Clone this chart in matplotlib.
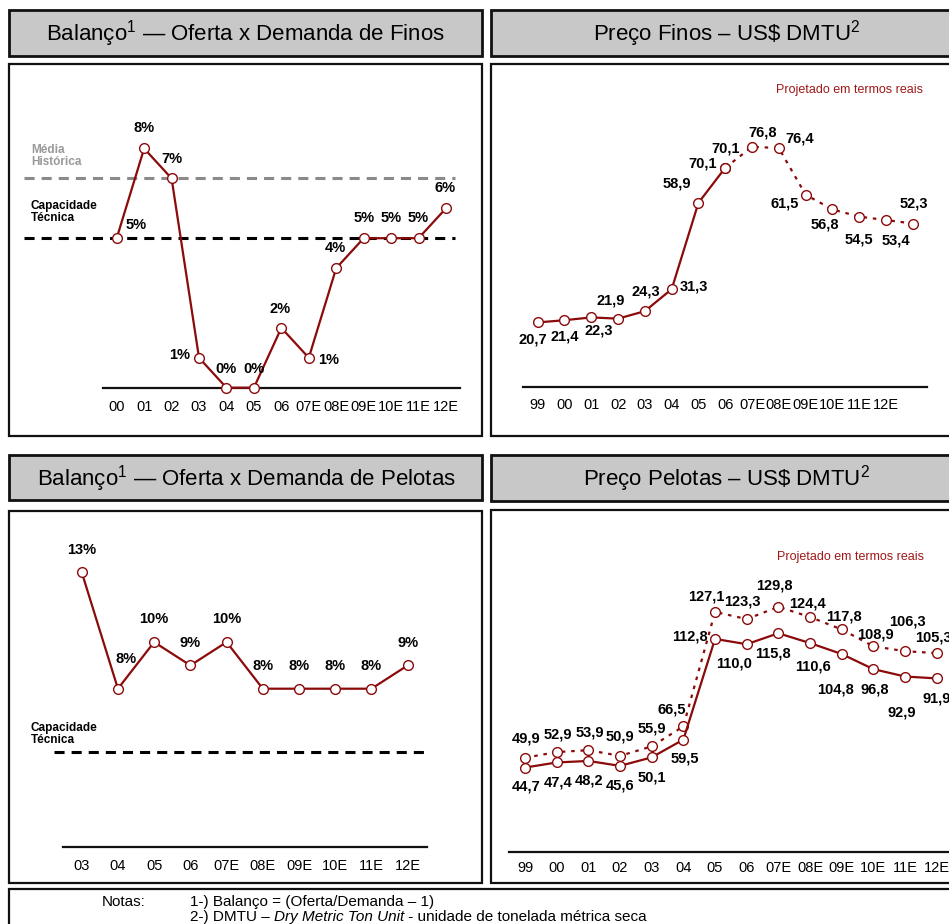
import matplotlib
matplotlib.use('Agg')
import matplotlib.pyplot as plt
from matplotlib.patches import Rectangle
from matplotlib import font_manager

# ---------------- data ----------------
finos_bal_cats = ['00', '01', '02', '03', '04', '05', '06', '07E', '08E', '09E', '10E', '11E', '12E']
finos_bal_vals = [5, 8, 7, 1, 0, 0, 2, 1, 4, 5, 5, 5, 6]
finos_media_historica = 7
finos_capacidade = 5

finos_price_ticks = ['99', '00', '01', '02', '03', '04', '05', '06', '07E', '08E', '09E', '10E', '11E', '12E']
finos_price_hist = [20.7, 21.4, 22.3, 21.9, 24.3, 31.3, 58.9, 70.1]
finos_price_proj = [70.1, 76.8, 76.4, 61.5, 56.8, 54.5, 53.4, 52.3]

pel_bal_cats = ['03', '04', '05', '06', '07E', '08E', '09E', '10E', '11E', '12E']
pel_bal_vals = [13, 8, 10, 9, 10, 8, 8, 8, 8, 9]
pel_capacidade = 5.3

pel_price_cats = ['99', '00', '01', '02', '03', '04', '05', '06', '07E', '08E', '09E', '10E', '11E', '12E']
pel_price_nominal = [44.7, 47.4, 48.2, 45.6, 50.1, 59.5, 112.8, 110.0, 115.8, 110.6, 104.8, 96.8, 92.9, 91.9]
pel_price_real = [49.9, 52.9, 53.9, 50.9, 55.9, 66.5, 127.1, 123.3, 129.8, 124.4, 117.8, 108.9, 106.3, 105.3]

# ---------------- label offsets (pixels, +y = down) ----------------
off_finos_bal = [(19, -13), (0, -20), (0, -19), (-19, -3), (0, -19), (0, -19), (-1, -19),
                 (20, 2), (-1, -20), (0, -20), (0, -20), (0, -20), (-1, -20)]
off_finos_hist = [(-5, 17), (0, 16), (7, 13), (-7, -18), (1, -20), (22, -3), (-22, -19), (-23, -4)]
off_finos_proj = [(0, -19), (11, -14), (21, -10), (-21, 9), (-8, 15), (0, 23), (10, 20), (1, -20)]
off_pel_bal = [(0, -22), (8, -30), (0, -23), (0, -22), (0, -23), (0, -23), (0, -23), (0, -23), (0, -23), (0, -22)]
off_pel_nom = [(1, 19), (1, 20), (1, 20), (0, 20), (0, 20), (1, 19), (-25, -2), (-13, 19), (-5, 20),
               (3, 23), (-6, 35), (1, 20), (-3, 36), (0, 20)]
off_pel_real = [(1, -19), (1, -18), (1, -18), (0, -19), (0, -18), (-12, -17), (-9, -15), (-4, -18),
                (-4, -21), (-3, -14), (2, -13), (2, -12), (2, -30), (-3, -16)]

W, H = 949, 924
RED = '#8b0a0a'
RED_TXT = '#a01818'

names = {f.name for f in font_manager.fontManager.ttflist}
SANS = 'Liberation Sans' if 'Liberation Sans' in names else 'DejaVu Sans'
NARROW = 'Liberation Sans Narrow' if 'Liberation Sans Narrow' in names else SANS
plt.rcParams['font.family'] = [SANS, 'DejaVu Sans']
plt.rcParams['mathtext.fontset'] = 'custom'
plt.rcParams['mathtext.rm'] = SANS

fig = plt.figure(figsize=(W / 100, H / 100), dpi=100)
fig.patch.set_facecolor('white')

bg = fig.add_axes([0, 0, 1, 1])
bg.set_xlim(0, W)
bg.set_ylim(H, 0)
bg.axis('off')


def box(x0, y0, x1, y1, fc='white', lw=1.6):
    bg.add_patch(Rectangle((x0, y0), x1 - x0, y1 - y0, facecolor=fc, edgecolor='#111111', lw=lw))


# headers and panels
box(9, 10, 482, 56, fc='#c8c8c8', lw=2)
box(491, 10, 965, 56, fc='#c8c8c8', lw=2)
box(9, 64, 482, 436)
box(491, 64, 965, 436)
box(9, 455, 482, 500, fc='#c8c8c8', lw=2)
box(491, 455, 965, 501, fc='#c8c8c8', lw=2)
box(9, 511, 482, 883)
box(491, 510, 965, 883)
box(9, 889, 965, 950)

bg.text(245.5, 34, 'Balanço$^{\\mathrm{1}}$ — Oferta x Demanda de Finos', ha='center', va='center', fontsize=16)
bg.text(727, 34, 'Preço Finos – US\\$ DMTU$^{\\mathrm{2}}$', ha='center', va='center', fontsize=16)
bg.text(246, 479, 'Balanço$^{\\mathrm{1}}$ — Oferta x Demanda de Pelotas', ha='center', va='center', fontsize=16)
bg.text(727, 479, 'Preço Pelotas – US\\$ DMTU$^{\\mathrm{2}}$', ha='center', va='center', fontsize=16)

# notes
nfs = 11
bg.text(102, 902, 'Notas:', ha='left', va='center', fontsize=nfs, family=[NARROW, SANS])
bg.text(190, 902, '1-) Balanço = (Oferta/Demanda – 1)', ha='left', va='center', fontsize=nfs, family=[NARROW, SANS])
fig.canvas.draw()
renderer = fig.canvas.get_renderer()
xcur = 190
for txt, style in [('2-) DMTU – ', 'normal'), ('Dry Metric Ton Unit', 'italic'),
                   (' - unidade de tonelada métrica seca', 'normal')]:
    t = bg.text(xcur, 917, txt, ha='left', va='center', fontsize=nfs, style=style, family=[NARROW, SANS])
    bb = t.get_window_extent(renderer=renderer)
    xcur += bb.width


def px_axes(x0, x1, ytop, ybot, pad):
    ax = fig.add_axes([x0 / W, 1 - ybot / H, (x1 - x0) / W, (ybot - ytop) / H])
    ax.patch.set_alpha(0)
    for s in ['top', 'left', 'right']:
        ax.spines[s].set_visible(False)
    ax.spines['bottom'].set_linewidth(1.6)
    ax.spines['bottom'].set_color('#111111')
    ax.set_yticks([])
    ax.tick_params(axis='x', length=0, pad=pad, labelsize=10.5)
    return ax


def series(ax, xs, ys, offsets, fmt, dashed=False):
    kw = dict(color=RED, lw=1.6, marker='o', ms=7, mfc='white', mec=RED, mew=1.0,
              clip_on=False, zorder=3)
    if dashed:
        ax.plot(xs, ys, dashes=(1.6, 2.6), **kw)
    else:
        ax.plot(xs, ys, **kw)
    for x, y, (dx, dy) in zip(xs, ys, offsets):
        ax.annotate(fmt(y), (x, y), xytext=(dx, -dy), textcoords='offset pixels',
                    ha='center', va='center', fontsize=10.5, fontweight='bold',
                    annotation_clip=False, zorder=4)


pct = lambda v: f'{v:.0f}%'
dec = lambda v: f'{v:.1f}'.replace('.', ',')

# ---- top-left: balanço finos ----
ax1 = px_axes(102.7, 460, 80, 387.7, 8.5)
ax1.set_xlim(-0.51, 12.51)
ax1.set_ylim(0, (387.7 - 80) / 29.9)
ax1.set_xticks(range(len(finos_bal_cats)))
ax1.set_xticklabels(finos_bal_cats)
ax1.hlines(finos_media_historica, -3.38, 12.33, colors='#8a8a8a', lw=2.2, linestyles=(0, (3.3, 2.3)), clip_on=False, zorder=2)
ax1.hlines(finos_capacidade, -3.38, 12.33, colors='black', lw=2.2, linestyles=(0, (3.3, 2.3)), clip_on=False, zorder=2)
series(ax1, list(range(len(finos_bal_vals))), finos_bal_vals, off_finos_bal, pct)
bg.text(31, 156, 'Média\nHistórica', ha='left', va='center', fontsize=8.5, fontweight='bold', color='#999999', linespacing=1.0)
bg.text(31, 212, 'Capacidade\nTécnica', ha='left', va='center', fontsize=8.5, fontweight='bold', color='black', linespacing=1.0)

# ---- top-right: preço finos ----
ax2 = px_axes(523.3, 927.3, 80, 387.2, 7.5)
ax2.set_xlim((523.3 - 537.7) / 26.79, (927.3 - 537.7) / 26.79)
ax2.set_ylim(0, (387.2 - 80) / 3.13)
ax2.set_xticks(range(len(finos_price_ticks)))
ax2.set_xticklabels(finos_price_ticks)
nh = len(finos_price_hist)
series(ax2, list(range(nh)), finos_price_hist, off_finos_hist, dec)
series(ax2, list(range(nh - 1, nh - 1 + len(finos_price_proj))), finos_price_proj, off_finos_proj, dec, dashed=True)
bg.text(850, 90, 'Projetado em termos reais', ha='center', va='center', fontsize=9, color=RED_TXT)

# ---- bottom-left: balanço pelotas ----
ax3 = px_axes(63.3, 426.7, 520, 846.7, 8.5)
ax3.set_xlim(-0.508, 9.525)
ax3.set_ylim(8 - (846.7 - 688.7) / 23.3, 8 + (688.7 - 520) / 23.3)
ax3.set_xticks(range(len(pel_bal_cats)))
ax3.set_xticklabels(pel_bal_cats)
ax3.hlines(pel_capacidade, -0.756, 9.57, colors='black', lw=2.2, linestyles=(0, (3.3, 2.3)), clip_on=False, zorder=2)
series(ax3, list(range(len(pel_bal_vals))), pel_bal_vals, off_pel_bal, pct)
bg.text(31, 734, 'Capacidade\nTécnica', ha='left', va='center', fontsize=8.5, fontweight='bold', color='black', linespacing=1.0)

# ---- bottom-right: preço pelotas ----
ax4 = px_axes(509.3, 949, 520, 852, 6.5)
ax4.set_xlim(-0.496, (949 - 525) / 31.67)
ax4.set_ylim(0, (852 - 520) / 1.889)
ax4.set_xticks(range(len(pel_price_cats)))
ax4.set_xticklabels(pel_price_cats)
xs = list(range(len(pel_price_nominal)))
series(ax4, xs, pel_price_real, off_pel_real, dec, dashed=True)
series(ax4, xs, pel_price_nominal, off_pel_nom, dec)
bg.text(850.7, 557, 'Projetado em termos reais', ha='center', va='center', fontsize=9, color=RED_TXT)

fig.savefig('out.png', dpi=100)
